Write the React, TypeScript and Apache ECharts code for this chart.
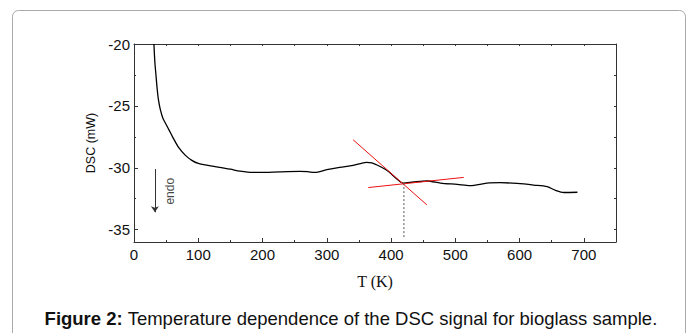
import React, { useEffect, useRef } from "react";
import * as echarts from "echarts";

// DSC curve: temperature (K) vs DSC (mW)
const temps = [31, 32.5, 34, 36, 38, 41, 45, 50, 55, 60, 70, 80, 90, 100, 115, 133, 150, 165, 185, 205, 227, 258, 270, 281, 300, 320, 341, 355, 362, 370, 383, 396, 409, 419, 435, 456, 477, 503, 523, 549, 570, 596, 622, 643, 656, 669, 690];
const dsc = [-20, -21.5, -22.4, -23.6, -24.5, -25.3, -26.0, -26.5, -27.0, -27.5, -28.4, -29.0, -29.4, -29.65, -29.8, -29.97, -30.12, -30.28, -30.38, -30.37, -30.33, -30.3, -30.32, -30.38, -30.16, -29.97, -29.8, -29.62, -29.57, -29.6, -29.9, -30.3, -30.9, -31.24, -31.15, -31.07, -31.24, -31.35, -31.45, -31.24, -31.2, -31.27, -31.4, -31.53, -31.83, -32.0, -31.98];

// Tangent lines (red) and onset marker
const tangent1 = [[341, -27.74], [455.7, -33.0]];
const tangent2 = [[364.5, -31.6], [513, -30.78]];
const onsetLine = [[420, -31.24], [420, -35.6]];
const endoArrow = [[32.5, -30.1], [32.5, -33.6]];
const endoLabelPos = [56, -31.9];

const xMajor = [0, 100, 200, 300, 400, 500, 600, 700];
const xMinor = [50, 150, 250, 350, 450, 550, 650];
const xTop = [50, 100, 150, 200, 250, 300, 350, 400, 450, 500, 550, 600, 650, 700];
const yMajor = [-35, -30, -25, -20];
const yMinor = [-32.5, -27.5, -22.5];
const yRight = [-35, -32.5, -30, -27.5, -25, -22.5];

const FONT = "Arial, 'Liberation Sans', sans-serif";
const AXIS_COLOR = "#333";

export default function App() {
  const ref = useRef<HTMLDivElement>(null);
  useEffect(() => {
    if (!ref.current) return;
    const chart = echarts.init(ref.current, undefined, { renderer: "svg" });
    const baseX = { type: "value", min: 0, max: 750, gridIndex: 0, splitLine: { show: false } };
    const baseY = { type: "value", min: -36, max: -20, gridIndex: 0, splitLine: { show: false } };
    const line = { show: true, onZero: false, lineStyle: { color: AXIS_COLOR, width: 1 } };
    chart.setOption({
      animation: false,
      backgroundColor: "#fff",
      grid: { left: 134, right: 79, top: 44, bottom: 91, containLabel: false },
      xAxis: [
        {
          ...baseX,
          position: "bottom",
          axisLine: line,
          axisTick: { show: true, inside: true, length: 4, customValues: xMajor, lineStyle: { color: AXIS_COLOR } },
          axisLabel: { show: true, customValues: xMajor, fontSize: 15, color: "#111", fontFamily: FONT, margin: 5 },
          name: "T (K)",
          nameLocation: "middle",
          nameGap: 31,
          nameTextStyle: { fontFamily: "'Times New Roman', 'Liberation Serif', serif", fontSize: 16, color: "#111" },
        },
        {
          ...baseX,
          position: "bottom",
          axisLine: { show: false, onZero: false },
          axisTick: { show: true, inside: true, length: 2, customValues: xMinor, lineStyle: { color: AXIS_COLOR } },
          axisLabel: { show: false },
        },
        {
          ...baseX,
          position: "top",
          axisLine: line,
          axisTick: { show: true, inside: true, length: 2, customValues: xTop, lineStyle: { color: AXIS_COLOR } },
          axisLabel: { show: false },
        },
      ],
      yAxis: [
        {
          ...baseY,
          position: "left",
          axisLine: line,
          axisTick: { show: true, inside: true, length: 4, customValues: yMajor, lineStyle: { color: AXIS_COLOR } },
          axisLabel: { show: true, customValues: yMajor, fontSize: 15, color: "#111", fontFamily: FONT, margin: 4 },
          name: "DSC (mW)",
          nameLocation: "middle",
          nameGap: 34,
          nameTextStyle: { fontFamily: FONT, fontSize: 12.5, color: "#111" },
        },
        {
          ...baseY,
          position: "left",
          axisLine: { show: false, onZero: false },
          axisTick: { show: true, inside: true, length: 2, customValues: yMinor, lineStyle: { color: AXIS_COLOR } },
          axisLabel: { show: false },
        },
        {
          ...baseY,
          position: "right",
          axisLine: line,
          axisTick: { show: true, inside: true, length: 2, customValues: yRight, lineStyle: { color: AXIS_COLOR } },
          axisLabel: { show: false },
        },
      ],
      series: [
        {
          type: "line",
          data: temps.map((t, i) => [t, dsc[i]]),
          xAxisIndex: 0,
          yAxisIndex: 0,
          showSymbol: false,
          smooth: 0.3,
          clip: true,
          lineStyle: { color: "#000", width: 1.3 },
        },
        {
          type: "line",
          data: tangent1,
          showSymbol: false,
          lineStyle: { color: "#ee1111", width: 1 },
        },
        {
          type: "line",
          data: tangent2,
          showSymbol: false,
          lineStyle: { color: "#ee1111", width: 1 },
        },
        {
          type: "line",
          data: onsetLine,
          showSymbol: false,
          lineStyle: { color: "#555", width: 1, type: [2, 2] },
        },
        {
          type: "lines",
          coordinateSystem: "cartesian2d",
          data: [{ coords: endoArrow }],
          symbol: ["none", "arrow"],
          symbolSize: 6,
          lineStyle: { color: "#333", width: 1, opacity: 1 },
        },
        {
          type: "scatter",
          data: [endoLabelPos],
          symbolSize: 0,
          label: {
            show: true,
            position: "inside",
            rotate: 90,
            formatter: "endo",
            fontFamily: FONT,
            fontSize: 12,
            color: "#111",
          },
        },
      ],
      graphic: [
        {
          type: "rect",
          shape: { x: 12.5, y: 10.5, width: 673, height: 340, r: 6 },
          style: { fill: "none", stroke: "#aaa", lineWidth: 1 },
          silent: true,
        },
        {
          type: "text",
          x: 351,
          y: 318,
          style: {
            text: "{b|Figure 2:} Temperature dependence of the DSC signal for bioglass sample.",
            textAlign: "center",
            textVerticalAlign: "middle",
            fontFamily: FONT,
            fontSize: 18.5,
            fill: "#111",
            rich: {
              b: { fontWeight: "bold", fontFamily: FONT, fontSize: 18.5, fill: "#111" },
            },
          },
        },
      ],
    });
    return () => chart.dispose();
  }, []);
  return (
    <div
      ref={ref}
      style={{ position: "fixed", left: 0, top: 0, width: 695, height: 333, background: "#fff" }}
    />
  );
}
